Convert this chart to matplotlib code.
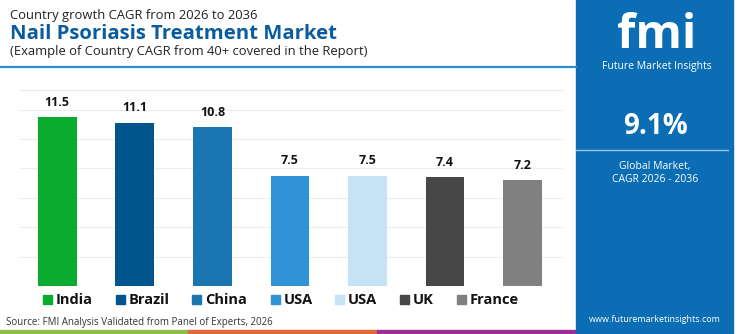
import matplotlib.pyplot as plt
from matplotlib.patches import Rectangle

plt.rcParams['font.family'] = ['Open Sans', 'DejaVu Sans']

# ---- Data ----
countries = ['India', 'Brazil', 'China', 'USA', 'USA', 'UK', 'France']
cagr = [11.5, 11.1, 10.8, 7.5, 7.5, 7.4, 7.2]
colors = ['#0aab2f', '#00558c', '#1a75b0', '#2f93d6', '#c5e3f4', '#474747', '#808080']
global_cagr = '9.1%'

W, H = 750, 334
fig = plt.figure(figsize=(W / 100, H / 100), dpi=100)


def px(x, y):
    return x / W, 1 - y / H


# ---- Bar chart ----
ax = fig.add_axes([20 / W, 1 - 286 / H, (563 - 20) / W, (286 - 90) / H])
xs = range(len(cagr))
ax.bar(xs, cagr, width=0.5, color=colors, zorder=3)
for x, v in zip(xs, cagr):
    ax.annotate(f'{v}', (x, v), xytext=(0, 6), textcoords='offset points',
                ha='center', va='bottom', fontsize=9, fontweight='bold', color='#111111')
ax.set_xlim(-0.48, 6.52)
ax.set_ylim(0, 13.33)
ax.set_yticks(range(0, 14, 2))
ax.grid(axis='y', color='#ececec', linewidth=0.8, zorder=0)
ax.set_xticks([])
ax.tick_params(left=False, labelleft=False)
for s in ['left', 'right', 'bottom']:
    ax.spines[s].set_visible(False)
ax.spines['top'].set_color('#ececec')
ax.spines['top'].set_linewidth(0.8)

# ---- Header ----
fig.text(*px(10, 15), 'Country growth CAGR from 2026 to 2036', fontsize=9.4,
         color='#222222', va='center')
fig.text(*px(10, 34), 'Nail Psoriasis Treatment Market', fontsize=14.6,
         fontweight='bold', color='#0b5c9e', va='center')
fig.text(*px(10, 51), '(Example of Country CAGR from 40+ covered in the Report)',
         fontsize=9.4, color='#222222', va='center')
fig.add_artist(plt.Line2D([0, 576 / W], [1 - 67 / H] * 2, color='#2a8bd0', linewidth=1.6))

# ---- Legend ----
legend_x = [43, 116, 192, 271, 335, 400, 457]
for lx, name, c in zip(legend_x, countries, colors):
    fig.add_artist(Rectangle(px(lx, 304), 9 / W, 9 / H, color=c, transform=fig.transFigure))
    fig.text(*px(lx + 13, 299.5), name, fontsize=10.5, fontweight='bold',
             color='#111111', va='center')

fig.text(*px(6, 322), 'Source: FMI Analysis Validated from Panel of Experts, 2026',
         fontsize=7, color='#333333', va='center')

# ---- Bottom stripes ----
for x0, x1, c in [(0, 188, '#8cbf4a'), (188, 377, '#e2683c'), (377, 576, '#9b2f8f')]:
    fig.add_artist(Rectangle(px(x0, 334), (x1 - x0) / W, 4 / H, color=c,
                             transform=fig.transFigure))

# ---- Right panel ----
fig.add_artist(Rectangle(px(576, 334), (733 - 576) / W, 1, color='#0b6db3',
                         transform=fig.transFigure))
fig.text(*px(657, 36), 'fmi', fontsize=34, fontweight='bold', color='white',
         ha='center', va='center')
fig.text(*px(657, 66), 'Future Market Insights', fontsize=7.5, color='white',
         ha='center', va='center')
fig.text(*px(655, 126), global_cagr, fontsize=20, fontweight='bold', color='white',
         ha='center', va='center')
fig.add_artist(plt.Line2D([576 / W, 728 / W], [1 - 150 / H] * 2, color='#9cc8ea', linewidth=1))
fig.text(*px(655, 166), 'Global Market,', fontsize=7.5, color='white',
         ha='center', va='center')
fig.text(*px(655, 180), 'CAGR 2026 - 2036', fontsize=7.5, color='white',
         ha='center', va='center')
fig.text(*px(655, 319), 'www.futuremarketinsights.com', fontsize=6.5, color='white',
         ha='center', va='center')

fig.savefig('out.png', dpi=100)
